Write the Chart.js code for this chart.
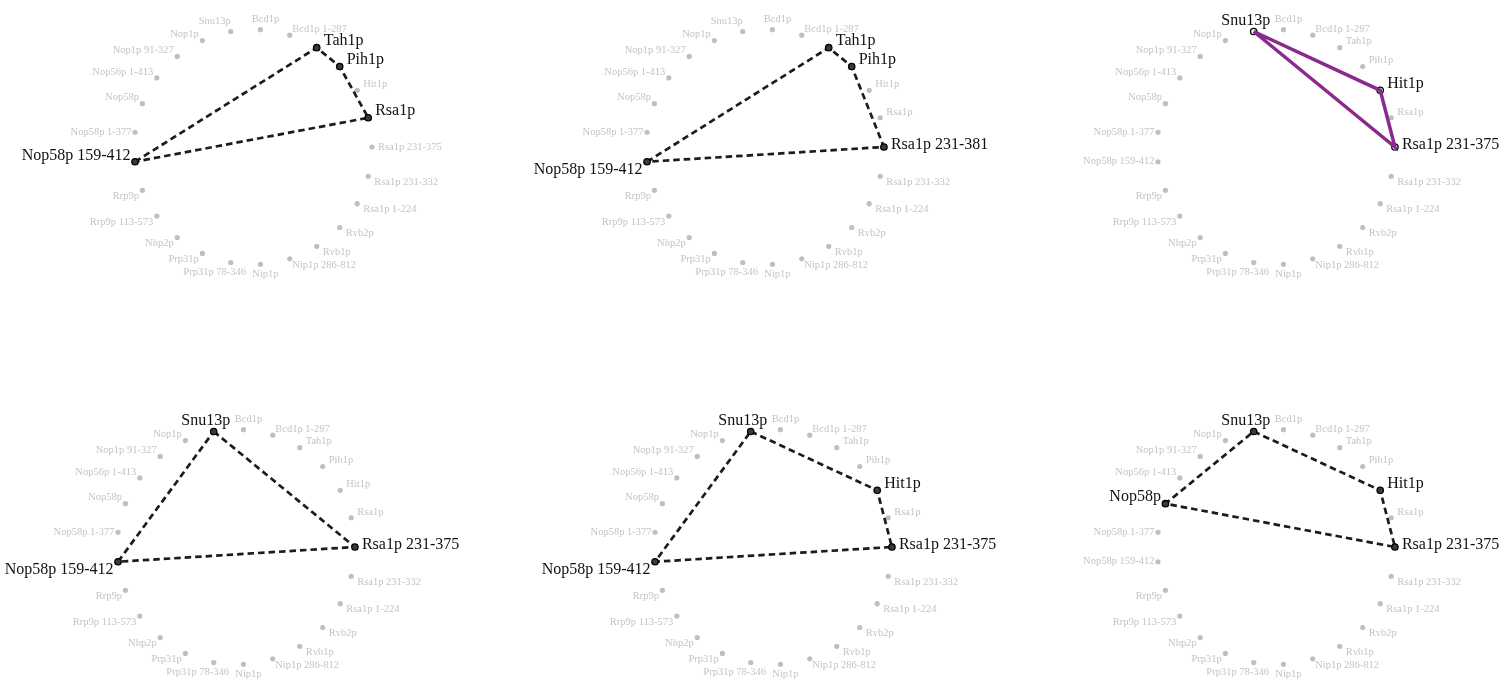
<!DOCTYPE html>
<html><head><meta charset="utf-8">
<script src="https://cdn.jsdelivr.net/npm/chart.js@4.4.1/dist/chart.umd.min.js"></script>
<style>
html,body{margin:0;padding:0;background:#fff;width:1508px;height:688px;overflow:hidden;position:relative}
canvas{position:absolute}
</style></head><body>
<script>
// ---- DATA ----
// nodes in circular order, starting at the rightmost position and going clockwise
const nodesMain = ["Rsa1p 231-375","Rsa1p 231-332","Rsa1p 1-224","Rvb2p","Rvb1p","Nip1p 286-812","Nip1p",
  "Prp31p 78-346","Prp31p","Nhp2p","Rrp9p 113-573","Rrp9p","Nop58p 159-412","Nop58p 1-377","Nop58p",
  "Nop56p 1-413","Nop1p 91-327","Nop1p","Snu13p","Bcd1p","Bcd1p 1-287","Tah1p","Pih1p","Hit1p","Rsa1p"];
const nodesAlt = ["Rsa1p 231-381","Rsa1p 231-332","Rsa1p 1-224","Rvb2p","Rvb1p","Nip1p 286-812","Nip1p",
  "Prp31p 78-346","Prp31p","Nhp2p","Rrp9p 113-573","Rrp9p","Nop58p 159-412","Nop58p 1-377","Nop58p",
  "Nop56p 1-413","Nop1p 91-327","Nop1p","Snu13p","Bcd1p","Bcd1p 1-287","Tah1p","Pih1p","Hit1p","Rsa1p"];

const cycle1 = ["Nop58p 159-412","Tah1p","Pih1p","Rsa1p"];
const cycle2 = ["Nop58p 159-412","Tah1p","Pih1p","Rsa1p 231-381"];
const cycle3 = ["Snu13p","Hit1p","Rsa1p 231-375"];
const cycle4 = ["Snu13p","Rsa1p 231-375","Nop58p 159-412"];
const cycle5 = ["Snu13p","Hit1p","Rsa1p 231-375","Nop58p 159-412"];
const cycle6 = ["Snu13p","Hit1p","Rsa1p 231-375","Nop58p"];

// ---- LAYOUT / STYLE ----
const panels = [
  {nodes: nodesMain, cycle: cycle1, cx: 252.5, cy: 146.5, style: "dash", raise: ["Nop58p 159-412"]},
  {nodes: nodesAlt,  cycle: cycle2, cx: 764.5, cy: 146.5, style: "dash", raise: []},
  {nodes: nodesMain, cycle: cycle3, cx: 1275.5, cy: 146.5, style: "purple", raise: []},
  {nodes: nodesMain, cycle: cycle4, cx: 235.5, cy: 546.5, style: "dash", raise: []},
  {nodes: nodesMain, cycle: cycle5, cx: 772.5, cy: 546.5, style: "dash", raise: []},
  {nodes: nodesMain, cycle: cycle6, cx: 1276, cy: 546.5, style: "dash", raise: []}
];
const W = 500, H = 330, RPX = 121.5;
const FONT = "'Liberation Serif','Times New Roman',serif";

function place(theta, big, raise) {
  const c = Math.cos(theta), s = Math.sin(theta);
  let align, dx;
  if (Math.abs(c) < 0.25) { align = 'center'; dx = c > 0 ? 5 : (big ? -8 : -16); }
  else if (c > 0) { align = 'left'; dx = c < 0.35 ? 2.5 : (big ? 7 : 6); }
  else { align = 'right'; dx = big ? -4.5 : -3.5; }
  const as = Math.abs(s), sg = s >= 0 ? 1 : -1;
  let dy;
  if (big) dy = as < 0.05 ? -2 : as < 0.2 ? 8 * sg : as > 0.97 ? 11 * sg : 7 * sg;
  else dy = as < 0.2 ? 0 : as > 0.97 ? 10 * sg : 6 * sg;
  if (raise) dy = -5.5;
  return {align, dx, dy};
}

panels.forEach((p, pi) => {
  const cv = document.createElement('canvas');
  cv.width = W; cv.height = H;
  cv.style.left = (p.cx - W / 2) + 'px';
  cv.style.top = (p.cy - H / 2) + 'px';
  cv.style.width = W + 'px'; cv.style.height = H + 'px';
  document.body.appendChild(cv);
  const N = p.nodes.length;
  const pos = {};
  p.nodes.forEach((n, i) => {
    const th = i * 2 * Math.PI / N;
    pos[n] = {x: Math.cos(th), y: -Math.sin(th), th};
  });
  const hi = new Set(p.cycle);
  const greyData = p.nodes.filter(n => !hi.has(n)).map(n => ({x: pos[n].x, y: pos[n].y}));
  const hiData = p.cycle.map(n => ({x: pos[n].x, y: pos[n].y}));
  const lineData = p.cycle.concat([p.cycle[0]]).map(n => ({x: pos[n].x, y: pos[n].y}));
  const purple = p.style === 'purple';
  const labelPlugin = {
    id: 'nodeLabels' + pi,
    beforeDatasetsDraw(chart) {
      const ctx = chart.ctx, sx = chart.scales.x, sy = chart.scales.y;
      ctx.save();
      ctx.textBaseline = 'middle';
      p.nodes.forEach(n => {
        const big = hi.has(n);
        const pl = place(pos[n].th, big, p.raise.includes(n));
        ctx.font = (big ? 16 : 10.5) + 'px ' + FONT;
        ctx.fillStyle = big ? '#111111' : '#c4c4c4';
        ctx.textAlign = pl.align;
        ctx.fillText(n, sx.getPixelForValue(pos[n].x) + pl.dx, sy.getPixelForValue(pos[n].y) + pl.dy);
      });
      ctx.restore();
    }
  };
  const xm = W / 2 / RPX, ym = H / 2 / RPX;
  new Chart(cv, {
    type: 'scatter',
    data: {datasets: [
      {data: greyData, pointRadius: 2.6, pointBackgroundColor: '#bfbfbf', pointBorderWidth: 0, showLine: false, order: 3},
      {data: lineData, showLine: true, pointRadius: 0, fill: false, tension: 0,
       borderColor: purple ? '#8a2a8c' : '#1c1c1c', borderWidth: purple ? 3.5 : 2.7,
       borderDash: purple ? [] : [6.5, 4], borderCapStyle: 'butt', borderJoinStyle: 'miter', order: purple ? 0 : 2},
      {data: hiData, pointRadius: 3.2, pointBackgroundColor: purple ? '#f4f4f4' : '#3a3a3a',
       pointBorderColor: '#000', pointBorderWidth: 1.3, showLine: false, order: 1}
    ]},
    options: {
      responsive: false, animation: false, devicePixelRatio: 1,
      layout: {padding: 0},
      plugins: {legend: {display: false}, tooltip: {enabled: false}},
      scales: {
        x: {type: 'linear', min: -xm, max: xm, display: false},
        y: {type: 'linear', min: -ym, max: ym, display: false}
      }
    },
    plugins: [labelPlugin]
  });
});
</script>
</body></html>
